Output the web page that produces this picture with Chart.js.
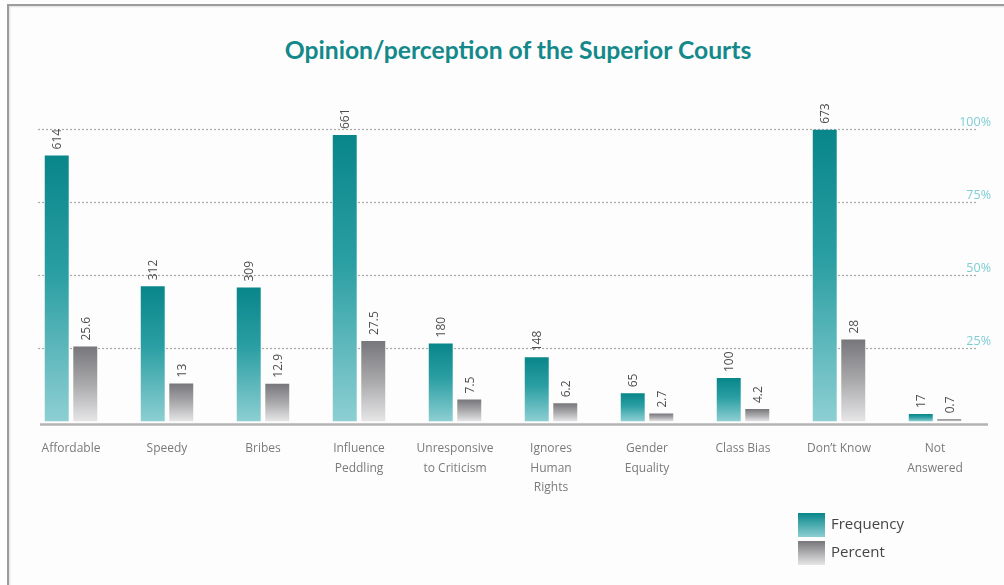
<!DOCTYPE html>
<html>
<head>
<meta charset="utf-8">
<title>Opinion/perception of the Superior Courts</title>
<script src="https://cdn.jsdelivr.net/npm/chart.js@4/dist/chart.umd.min.js"></script>
<style>
  html, body { margin: 0; padding: 0; background: #ffffff; }
  #wrap { position: relative; width: 1004px; height: 585px; overflow: hidden; background: #fdfdfd; }
  #frame {
    position: absolute; left: 7px; top: 4px; right: -10px; bottom: -10px;
    border-left: 2px solid #9c9c9c; border-top: 2px solid #9c9c9c;
    box-shadow: inset 1px 1px 2px rgba(0,0,0,0.12);
  }
  #title {
    position: absolute; left: 0; width: 1036px; top: 35px; text-align: center;
    font-family: Lato, "Open Sans", sans-serif; font-weight: 700; font-size: 24.7px;
    color: #13898b; line-height: 30px;
  }
  canvas { position: absolute; left: 0; top: 0; }
</style>
</head>
<body>
<div id="wrap">
  <div id="frame"></div>
  <div id="title">Opinion/perception of the Superior Courts</div>
  <canvas id="chart" width="1004" height="585"></canvas>
</div>
<script>
// Survey answers: how respondents see the superior courts
const categories = [
  'Affordable', 'Speedy', 'Bribes', ['Influence', 'Peddling'],
  ['Unresponsive', 'to Criticism'], ['Ignores', 'Human', 'Rights'],
  ['Gender', 'Equality'], 'Class Bias', "Don\u2019t Know", ['Not', 'Answered']
];
const frequency = [614, 312, 309, 661, 180, 148, 65, 100, 673, 17];
const percent = [25.6, 13, 12.9, 27.5, 7.5, 6.2, 2.7, 4.2, 28, 0.7];
const percentTicks = [25, 50, 75, 100];

// Vertical gradient running from the top of each bar down to the baseline
function barGradient(stops, scaleId) {
  return function (ctx) {
    const chart = ctx.chart;
    const scale = chart.scales[scaleId];
    if (!chart.chartArea || !scale || ctx.raw === undefined) return stops[0][1];
    const top = scale.getPixelForValue(ctx.raw);
    const base = scale.getPixelForValue(0);
    const g = chart.ctx.createLinearGradient(0, top, 0, base);
    stops.forEach(s => g.addColorStop(s[0], s[1]));
    return g;
  };
}
const tealStops = [[0, '#08868a'], [0.45, '#2b9fa3'], [1, '#8dcfd3']];
const greyStops = [[0, '#77777b'], [0.5, '#a9a9ac'], [1, '#e6e6e7']];

// Dotted guide lines and the baseline rule
const guides = {
  id: 'guides',
  beforeDatasetsDraw(chart) {
    const c = chart.ctx;
    const yP = chart.scales.yP;
    c.save();
    c.strokeStyle = '#a9a9a9';
    c.lineWidth = 1.2;
    c.setLineDash([2, 2]);
    percentTicks.forEach(v => {
      const y = Math.round(yP.getPixelForValue(v)) + 0.5;
      c.beginPath();
      c.moveTo(38, y);
      c.lineTo(977, y);
      c.stroke();
    });
    c.setLineDash([]);
    c.strokeStyle = '#b3b3b3';
    c.lineWidth = 2.5;
    const base = yP.getPixelForValue(0) + 3;
    c.beginPath();
    c.moveTo(40, base);
    c.lineTo(988, base);
    c.stroke();
    c.restore();
  }
};

// Rotated value labels above each bar
const valueLabels = {
  id: 'valueLabels',
  afterDatasetsDraw(chart) {
    const c = chart.ctx;
    c.save();
    c.font = '12px "Open Sans", sans-serif';
    c.fillStyle = '#4e4e4e';
    c.textAlign = 'left';
    c.textBaseline = 'middle';
    chart.data.datasets.forEach((ds, di) => {
      const meta = chart.getDatasetMeta(di);
      meta.data.forEach((bar, i) => {
        c.save();
        c.translate(bar.x + 1, bar.y - 6);
        c.rotate(-Math.PI / 2);
        c.fillText(String(ds.data[i]), 0, 0);
        c.restore();
      });
    });
    c.restore();
  }
};

// Legend box in the lower right corner
const cornerLegend = {
  id: 'cornerLegend',
  afterDraw(chart) {
    const c = chart.ctx;
    const items = [
      { label: chart.data.datasets[0].label, stops: tealStops },
      { label: chart.data.datasets[1].label, stops: greyStops }
    ];
    c.save();
    items.forEach((it, k) => {
      const x = 798, y = 513 + k * 28, w = 27, h = 24;
      const g = c.createLinearGradient(0, y, 0, y + h);
      g.addColorStop(0, it.stops[0][1]);
      g.addColorStop(1, it.stops[2][1]);
      c.fillStyle = g;
      c.fillRect(x, y, w, h);
      c.fillStyle = '#454545';
      c.font = '15px "Open Sans", sans-serif';
      c.textAlign = 'left';
      c.textBaseline = 'middle';
      c.fillText(it.label, x + 33, y + h / 2);
    });
    c.restore();
  }
};

new Chart(document.getElementById('chart'), {
  type: 'bar',
  data: {
    labels: categories,
    datasets: [
      {
        label: 'Frequency',
        data: frequency,
        yAxisID: 'yF',
        backgroundColor: barGradient(tealStops, 'yF'),
        categoryPercentage: 0.594,
        barPercentage: 0.84
      },
      {
        label: 'Percent',
        data: percent,
        yAxisID: 'yP',
        backgroundColor: barGradient(greyStops, 'yP'),
        categoryPercentage: 0.594,
        barPercentage: 0.84
      }
    ]
  },
  options: {
    responsive: false,
    animation: false,
    devicePixelRatio: 1,
    layout: { padding: { top: 129, left: 23, right: 5, bottom: 78 } },
    plugins: {
      legend: { display: false },
      title: { display: false },
      tooltip: { enabled: false }
    },
    scales: {
      x: {
        grid: { display: false },
        border: { display: false },
        ticks: {
          color: '#7a7a7a',
          font: { family: '"Open Sans", sans-serif', size: 12, lineHeight: 1.6 },
          padding: 10,
          maxRotation: 0,
          autoSkip: false
        }
      },
      yF: {
        display: false,
        min: 0,
        max: 675
      },
      yP: {
        position: 'right',
        min: 0,
        max: 100,
        grid: { display: false, drawTicks: false },
        border: { display: false },
        afterBuildTicks(scale) {
          scale.ticks = percentTicks.map(v => ({ value: v }));
        },
        ticks: {
          mirror: true,
          padding: 8,
          labelOffset: -7,
          color: '#7fcdd3',
          font: { family: '"Open Sans", sans-serif', size: 12.5 },
          callback: v => v + '%'
        }
      }
    }
  },
  plugins: [guides, valueLabels, cornerLegend]
});
</script>
</body>
</html>
